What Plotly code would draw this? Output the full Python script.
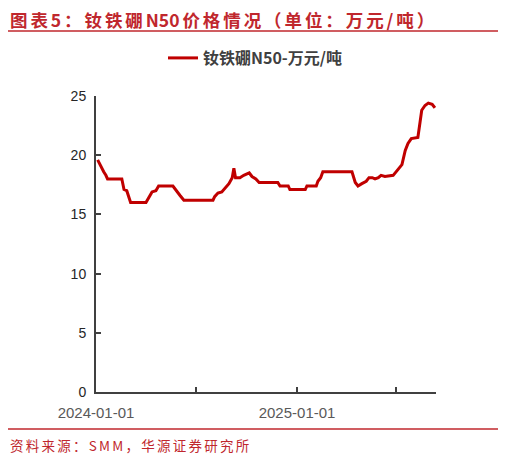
import plotly.graph_objects as go

# 钕铁硼N50 价格（万元/吨），读图所得的拐点
dates = [
    "2024-01-04", "2024-01-08", "2024-01-11", "2024-01-15", "2024-01-19", "2024-01-22",
    "2024-02-17", "2024-02-21", "2024-02-26", "2024-03-01", "2024-03-04", "2024-04-01",
    "2024-04-06", "2024-04-12", "2024-04-19", "2024-04-24", "2024-05-20", "2024-05-26",
    "2024-06-02", "2024-06-09", "2024-08-01", "2024-08-04", "2024-08-10", "2024-08-17",
    "2024-08-23", "2024-08-30", "2024-09-05", "2024-09-08", "2024-09-11", "2024-09-19",
    "2024-09-26", "2024-10-06", "2024-10-11", "2024-10-18", "2024-10-24", "2024-11-27",
    "2024-12-01", "2024-12-16", "2024-12-19", "2025-01-16", "2025-01-19", "2025-02-05",
    "2025-02-08", "2025-02-13", "2025-02-17", "2025-04-11", "2025-04-17", "2025-04-22",
    "2025-04-29", "2025-05-07", "2025-05-12", "2025-05-18", "2025-05-23", "2025-05-29",
    "2025-06-03", "2025-06-10", "2025-06-25", "2025-06-30", "2025-07-05", "2025-07-11",
    "2025-07-17", "2025-07-22", "2025-07-28", "2025-08-09", "2025-08-13", "2025-08-16",
    "2025-08-22", "2025-08-28", "2025-09-04", "2025-09-09",
]
prices = [
    19.6, 19.2, 18.9, 18.6, 18.3, 18.0,
    18.0, 17.1, 17.0, 16.5, 16.0, 16.0,
    16.4, 16.9, 17.0, 17.4, 17.4, 17.0,
    16.6, 16.2, 16.2, 16.5, 16.8, 16.9,
    17.2, 17.6, 18.1, 18.9, 18.1, 18.1,
    18.3, 18.5, 18.2, 18.0, 17.7, 17.7,
    17.4, 17.4, 17.1, 17.1, 17.4, 17.4,
    17.8, 18.1, 18.6, 18.6, 17.7, 17.4,
    17.6, 17.8, 18.1, 18.1, 18.0, 18.1,
    18.3, 18.2, 18.3, 18.6, 18.9, 19.2,
    20.4, 21.0, 21.4, 21.5, 22.8, 23.8,
    24.2, 24.4, 24.3, 24.0,
]

x_tickvals = ["2024-01-01", "2024-07-01", "2025-01-01", "2025-07-01"]
x_ticktext = ["2024-01-01", "", "2025-01-01", ""]
y_tickvals = [0, 5, 10, 15, 20, 25]

series_name = "钕铁硼N50-万元/吨"
title_text = "图表 5：钕铁硼 N50 价格情况（单位：万元/吨）"
source_text = "资料来源：SMM，华源证券研究所"

# page is drawn inside the browser's 8px body margin
OFF = 8
PW, PH = 506, 462
PL, PR, PT, PB = 96, 436, 96, 392   # plot area in page pixels
W, H = PW - 2 * OFF, PH - 2 * OFF
RED = "#c0272d"
CJK = "Noto Sans CJK SC"


def px_x(p):
    return (p - PL) / (PR - PL)


def px_y(p):
    return (PB - p) / (PB - PT)


def spaced(s, gap):
    return gap.join(ch for ch in s if ch != " ").replace("N" + gap + "5" + gap + "0", "N50")


fig = go.Figure()
fig.add_trace(go.Scatter(
    x=dates, y=prices,
    mode="lines",
    name=series_name,
    line=dict(color="#c00000", width=3),
))

fig.update_layout(
    width=W, height=H,
    margin=dict(l=PL - OFF, r=PW - OFF - PR, t=PT - OFF, b=PH - OFF - PB),
    paper_bgcolor="white",
    plot_bgcolor="white",
    showlegend=True,
    legend=dict(
        orientation="h",
        x=px_x(163), xanchor="left",
        y=px_y(58), yanchor="middle",
        font=dict(family=CJK, size=16, color="#404040", weight="bold"),
        bgcolor="rgba(0,0,0,0)",
    ),
    xaxis=dict(
        type="date",
        range=["2024-01-01", "2025-09-11"],
        tickvals=x_tickvals,
        ticktext=x_ticktext,
        ticks="inside", ticklen=5, tickwidth=1.5, tickcolor="#404040",
        showline=True, linecolor="#404040", linewidth=2,
        showgrid=False, zeroline=False,
        tickfont=dict(family="Liberation Sans", size=15, color="#595959"),
        ticklabelstandoff=6,
    ),
    yaxis=dict(
        range=[0, 25],
        tickvals=y_tickvals,
        ticks="inside", ticklen=5, tickwidth=1.5, tickcolor="#404040",
        showline=True, linecolor="#404040", linewidth=2,
        showgrid=False, zeroline=False,
        tickfont=dict(family="Liberation Sans", size=14, color="#262626"),
        ticklabelstandoff=5,
    ),
    shapes=[
        dict(type="line", xref="paper", yref="paper",
             x0=px_x(8), x1=px_x(501), y0=px_y(31), y1=px_y(31),
             line=dict(color=RED, width=1.5)),
        dict(type="line", xref="paper", yref="paper",
             x0=px_x(8), x1=px_x(501), y0=px_y(429), y1=px_y(429),
             line=dict(color=RED, width=1.5)),
    ],
    annotations=[
        dict(text=spaced(title_text, "\u2006"), xref="paper", yref="paper",
             x=px_x(8), y=px_y(19.5), xanchor="left", yanchor="middle",
             showarrow=False,
             font=dict(family=CJK, size=17.5, color=RED, weight="bold")),
        dict(text=spaced(source_text, "\u2006"), xref="paper", yref="paper",
             x=px_x(8), y=px_y(445), xanchor="left", yanchor="middle",
             showarrow=False,
             font=dict(family=CJK, size=13.5, color=RED)),
    ],
)

fig.write_html("out.html")
